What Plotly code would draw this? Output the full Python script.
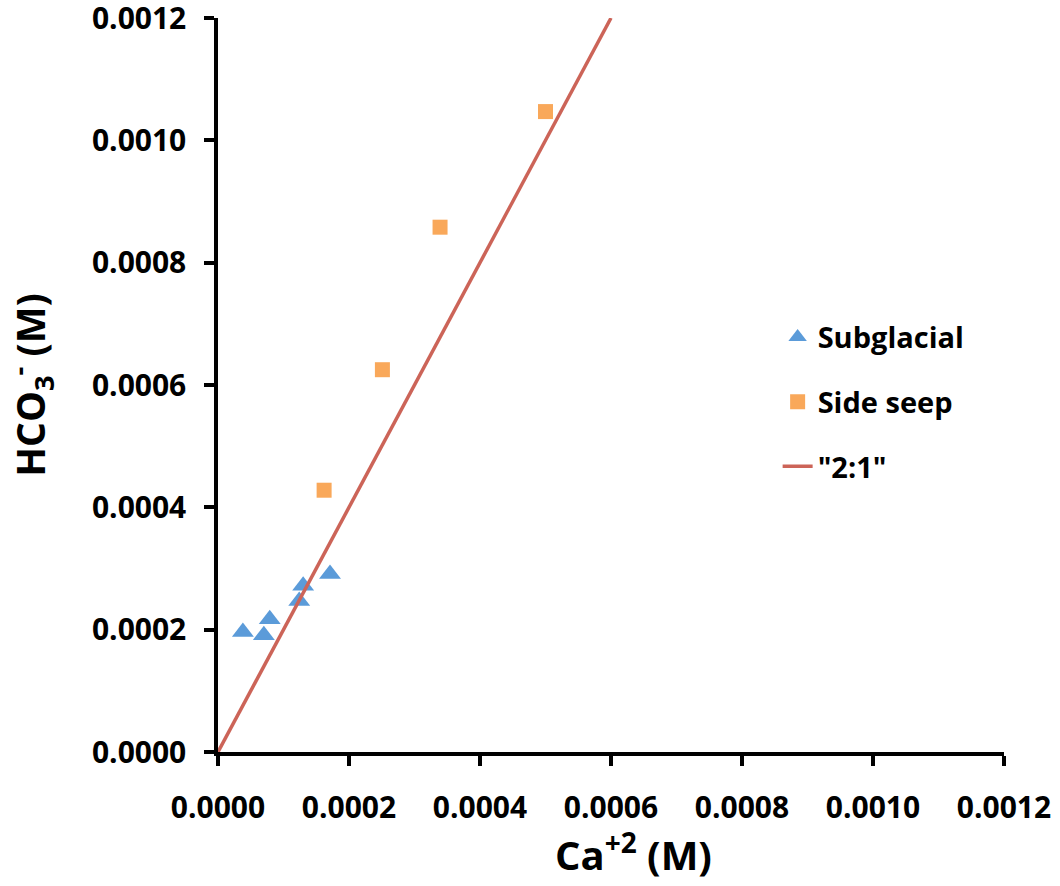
import plotly.graph_objects as go

sub_x = [0.000038, 0.000070, 0.000079, 0.000124, 0.000130, 0.000171]
sub_y = [0.000196, 0.000191, 0.000217, 0.000247, 0.000272, 0.000291]
seep_x = [0.000162, 0.000251, 0.000339, 0.000500]
seep_y = [0.000428, 0.000625, 0.000858, 0.001047]
line_x = [0.0, 0.0006]
line_y = [0.0, 0.0012]
tick_vals = [0.0, 0.0002, 0.0004, 0.0006, 0.0008, 0.0010, 0.0012]
tick_text = ["0.0000", "0.0002", "0.0004", "0.0006", "0.0008", "0.0010", "0.0012"]

FONT = "Open Sans"

fig = go.Figure()
fig.add_trace(go.Scatter(x=sub_x, y=sub_y, mode="markers", name="Subglacial",
                         legendgroup="a",
                         marker=dict(symbol="triangle-up", size=19, color="#5B9BD9")))
fig.add_trace(go.Scatter(x=seep_x, y=seep_y, mode="markers", name="Side seep",
                         legendgroup="b",
                         marker=dict(symbol="square", size=15, color="#F9A85A")))
fig.add_trace(go.Scatter(x=line_x, y=line_y, mode="lines", name='"2:1"',
                         legendgroup="c",
                         line=dict(color="#CC6458", width=3.5)))

axis_common = dict(
    range=[0, 0.0012], tickvals=tick_vals, ticktext=tick_text,
    showgrid=False, zeroline=False, showline=True, linecolor="black", linewidth=3.5,
    ticks="outside", ticklen=10, tickwidth=3.5, tickcolor="black",
    ticklabeloverflow="allow", automargin=False,
    tickfont=dict(family=FONT, size=30, color="black", weight="bold"),
)

fig.update_layout(
    width=1060, height=886,
    margin=dict(l=218, r=56, t=18, b=134),
    paper_bgcolor="white", plot_bgcolor="white",
    font=dict(family=FONT, color="black"),
    xaxis=dict(**axis_common, ticklabelstandoff=16),
    yaxis=dict(**axis_common, ticklabelstandoff=12,
               title=dict(text="HCO<sub>3</sub><sup>-</sup> (M)", standoff=38,
                          font=dict(family=FONT, size=39, color="black", weight="bold"))),
    legend=dict(x=0.712, y=0.6, xanchor="left", yanchor="top",
                font=dict(family=FONT, size=29, color="black", weight="bold"),
                tracegroupgap=24, bgcolor="rgba(0,0,0,0)"),
    annotations=[dict(text="Ca<sup>+2</sup> (M)", xref="paper", yref="paper",
                      x=0.528, y=-0.1376, xanchor="center", yanchor="middle",
                      showarrow=False,
                      font=dict(family=FONT, size=40, color="black", weight="bold"))],
)

fig.write_html("out.html")
